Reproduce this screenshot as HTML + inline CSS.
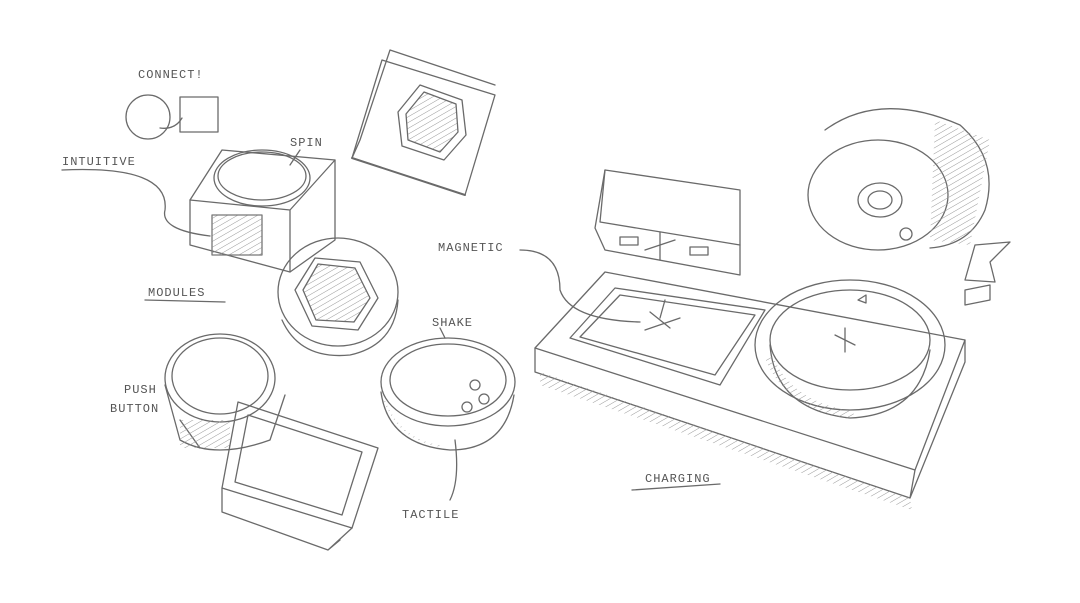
<!DOCTYPE html>
<html><head><meta charset="utf-8">
<style>
html,body{margin:0;padding:0;background:#fff;}
svg{display:block}
text{font-family:"Liberation Mono",monospace;font-size:12px;fill:#555;letter-spacing:1px}
</style></head><body>
<svg width="1080" height="603" viewBox="0 0 1080 603" xmlns="http://www.w3.org/2000/svg">
<defs>
<pattern id="h" width="5" height="5" patternUnits="userSpaceOnUse" patternTransform="rotate(60)">
<line x1="0" y1="0" x2="0" y2="5" stroke="#999" stroke-width="1"/></pattern>
</defs>
<g fill="none" stroke="#6a6a6a" stroke-width="1.3" stroke-linecap="round" stroke-linejoin="round">
<!-- connect -->
<circle cx="148" cy="117" r="22"/>
<rect x="180" y="97" width="38" height="35"/>
<path d="M160 128 Q175 130 182 118"/>
<!-- spin cube -->
<path d="M190 200 L222 150 L335 160 L335 240 L290 272 L190 245 Z"/>
<path d="M190 200 L290 210 L335 160 M290 210 L290 272"/>
<ellipse cx="262" cy="178" rx="48" ry="28"/>
<ellipse cx="262" cy="176" rx="44" ry="24"/>
<rect x="212" y="215" width="50" height="40" fill="url(#h)" stroke="#777"/>
<path d="M62 170 Q170 165 165 210 Q160 230 210 236"/>
<path d="M300 150 L290 165"/>
<!-- tilted box top -->
<path d="M352 158 L382 60 L495 95 L465 195 Z"/>
<path d="M352 158 L360 140 L390 50 L495 85"/>
<path d="M352 158 L465 195" stroke-width="2"/>
<polygon points="398,112 420,85 462,100 466,135 444,160 402,146"/>
<polygon points="406,114 424,92 456,104 458,132 440,152 408,140" fill="url(#h)"/>
<!-- hex cylinder -->
<ellipse cx="338" cy="292" rx="60" ry="54"/>
<path d="M282 320 Q300 360 350 355 Q395 345 398 300"/>
<polygon points="295,290 315,258 360,262 378,298 358,330 312,326"/>
<polygon points="303,290 318,264 355,268 370,298 354,322 316,320" fill="url(#h)"/>
<!-- push button -->
<ellipse cx="220" cy="378" rx="55" ry="44"/>
<ellipse cx="220" cy="376" rx="48" ry="38"/>
<path d="M165 385 L180 440 Q215 460 270 440 L285 395"/>
<path d="M180 420 L200 448" />
<rect x="180" y="420" width="50" height="28" fill="url(#h)" stroke="none"/>
<!-- square box bottom -->
<path d="M238 402 L378 448 L352 528 L222 488 Z"/>
<path d="M248 415 L362 452 L342 515 L235 482 Z"/>
<path d="M222 488 L222 512 L328 550 L352 528 M328 550 L340 540"/>
<!-- shake bowl -->
<ellipse cx="448" cy="382" rx="67" ry="44"/>
<ellipse cx="448" cy="380" rx="58" ry="36"/>
<path d="M381 392 Q388 445 450 450 Q505 450 514 395"/>
<path d="M384 400 Q400 440 440 446" stroke="url(#h)"/>
<circle cx="475" cy="385" r="5"/><circle cx="484" cy="399" r="5"/><circle cx="467" cy="407" r="5"/>
<path d="M440 328 L445 338 M455 440 Q460 480 450 500"/>
<!-- charging base -->
<path d="M535 348 L605 272 L965 340 L915 470 Z"/>
<path d="M535 348 L535 372 L910 498 L915 470 M910 498 L965 362 L965 340"/>
<polygon points="540,372 910,498 912,510 540,385" fill="url(#h)" stroke="none"/>
<path d="M570 338 L615 288 L765 310 L720 385 Z"/>
<path d="M580 337 L620 295 L755 315 L715 375 Z"/>
<!-- magnetic box -->
<path d="M595 228 L605 170 L740 190 L740 275 L605 250 Z"/>
<path d="M605 170 L600 222 L740 245"/>
<rect x="620" y="237" width="18" height="8"/><rect x="690" y="247" width="18" height="8"/>
<path d="M645 250 L675 240 M660 232 L660 260"/>
<path d="M650 312 L670 328 M660 318 L665 300 M645 330 L680 318"/>
<path d="M520 250 Q560 250 560 290 Q570 320 640 322"/>
<!-- dome -->
<ellipse cx="850" cy="345" rx="95" ry="65"/>
<ellipse cx="850" cy="340" rx="80" ry="50"/>
<path d="M770 345 Q775 410 850 418 Q920 415 930 350"/>
<path d="M770 360 Q790 405 850 415" stroke="url(#h)" stroke-width="8"/>
<path d="M835 335 L855 345 M845 328 L845 352"/>
<path d="M858 300 L866 295 L866 303 Z"/>
<!-- top right cylinder -->
<ellipse cx="878" cy="195" rx="70" ry="55"/>
<ellipse cx="880" cy="200" rx="22" ry="17"/><ellipse cx="880" cy="200" rx="12" ry="9"/>
<path d="M825 130 Q880 90 960 125 Q1000 160 985 210 Q970 245 930 248"/>
<path d="M935 120 L990 140 L970 245 L930 240 Z" fill="url(#h)" stroke="none"/>
<circle cx="906" cy="234" r="6"/>
<!-- arrow -->
<path d="M975 245 L1010 242 L990 262 L995 282 L965 280 Z"/>
<path d="M965 290 L990 285 L990 300 L965 305 Z"/>
<!-- underlines -->
<path d="M145 300 L225 302"/>
<path d="M632 490 L720 484"/>
</g>
<text x="138" y="78">CONNECT!</text>
<text x="290" y="146">SPIN</text>
<text x="62" y="165">INTUITIVE</text>
<text x="148" y="296">MODULES</text>
<text x="124" y="393">PUSH</text>
<text x="110" y="412">BUTTON</text>
<text x="432" y="326">SHAKE</text>
<text x="402" y="518">TACTILE</text>
<text x="438" y="251">MAGNETIC</text>
<text x="645" y="482">CHARGING</text>
</svg>
</body></html>
